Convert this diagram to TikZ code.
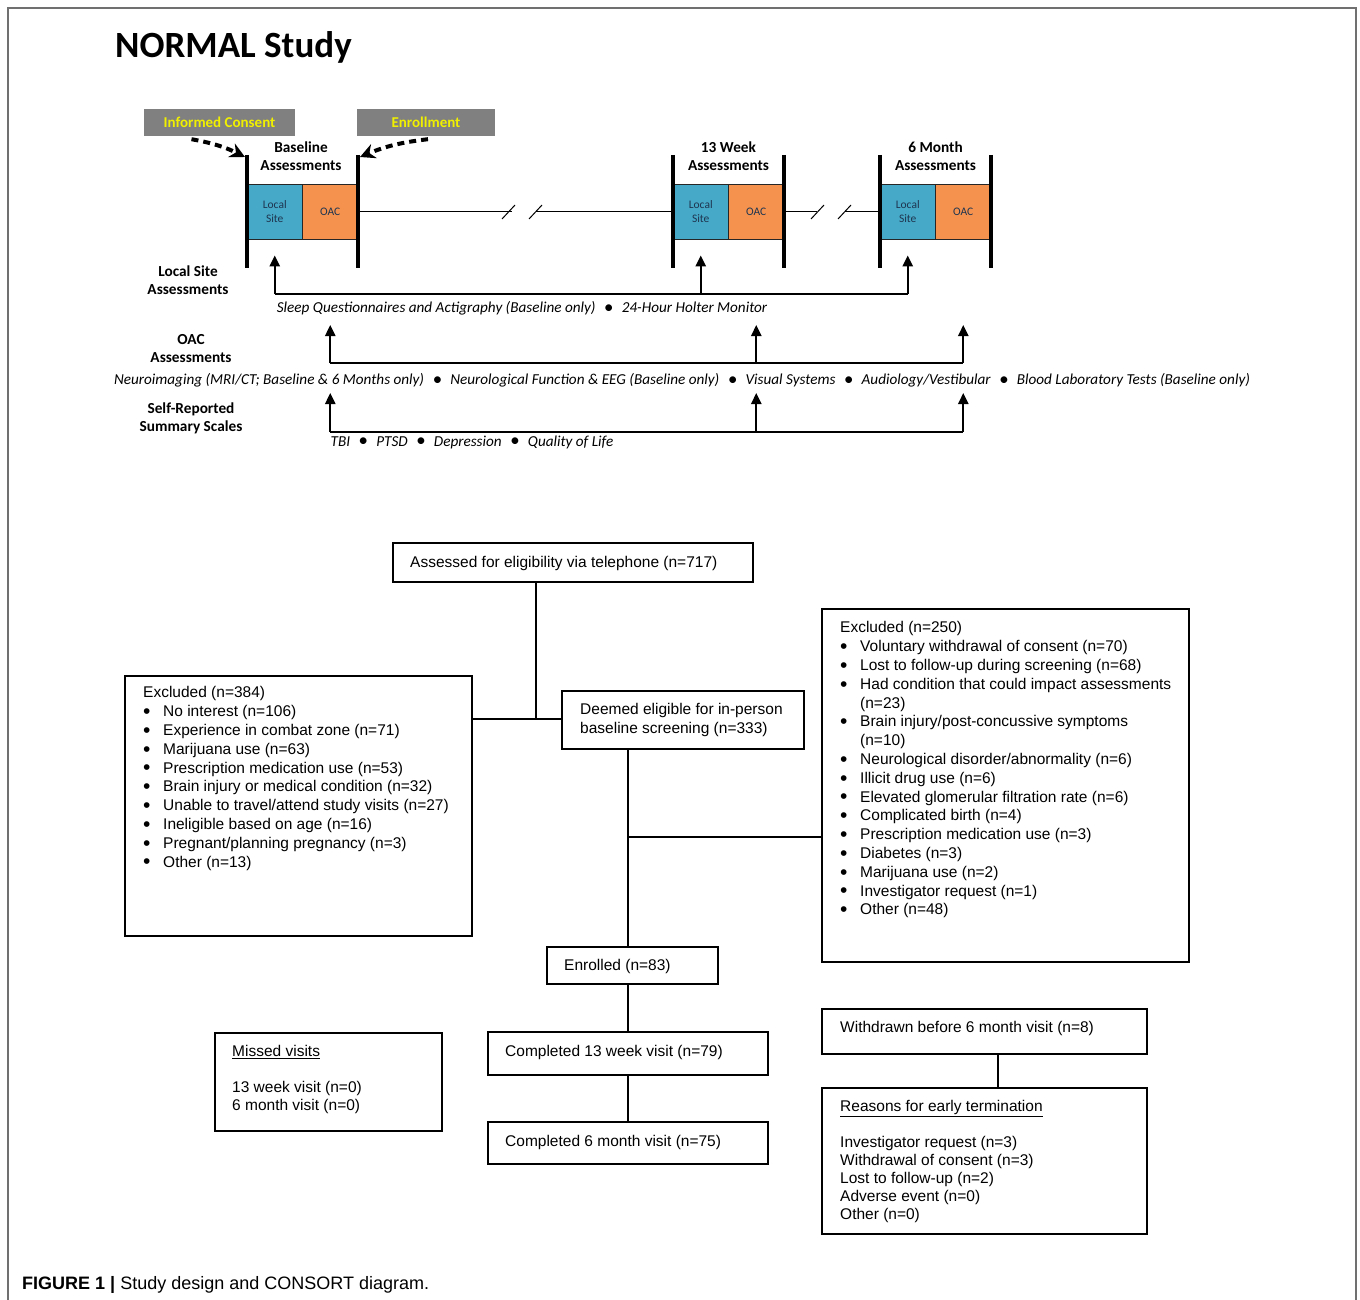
\documentclass[tikz,border=0pt]{standalone}
\usepackage{fontspec}
\setmainfont{Liberation Sans}
\newfontfamily\calfont{Carlito}
\usetikzlibrary{arrows.meta,calc}
\definecolor{lsblue}{HTML}{45A9C7}
\definecolor{oacorange}{HTML}{F5924E}
\definecolor{hdrgray}{HTML}{808080}
\definecolor{hdryellow}{HTML}{F0F000}
\definecolor{boxtext}{HTML}{1F3550}
\definecolor{framegray}{HTML}{707070}
\newcommand{\bsep}{\hspace{0.55em}\raisebox{-0.05em}{\fontsize{19}{19}\selectfont•}\hspace{0.55em}}
\newcommand{\bitem}{\makebox[20pt][l]{\raisebox{-0.12em}{\fontsize{21}{19}\selectfont•}}}
\begin{document}
\begin{tikzpicture}[x=1pt,y=-1pt,
  cbox/.style={draw, line width=1.8pt, inner sep=0},
  ctext/.style={anchor=north west, inner sep=0, align=left, font=\fontsize{15.5}{18.8}\selectfont},
  lbl/.style={inner sep=0, align=center, font=\calfont\bfseries\fontsize{15.3}{18}\selectfont},
  itx/.style={inner sep=0, font=\calfont\itshape\fontsize{15.2}{17}\selectfont},
  hdr/.style={fill=hdrgray, text=hdryellow, inner sep=0, minimum height=27, font=\calfont\bfseries\fontsize{15}{17}\selectfont},
  tbox/.style={draw=black!85, line width=0.8pt, inner sep=0, minimum width=55.5, minimum height=55, align=center, text=boxtext, font=\calfont\fontsize{11.5}{14}\selectfont},
  bar/.style={line width=4pt},
  tline/.style={line width=1pt},
  conn/.style={line width=2.4pt},
  uparrow/.style={line width=2.4pt, -{Triangle[length=11pt,width=10pt]}},
  dasharrow/.style={line width=4pt, dash pattern=on 7pt off 5pt, -{Stealth[length=15pt,width=15pt]}},
  link/.style={line width=1.8pt}
]
\useasboundingbox (0,0) rectangle (1360,1300);
% frame
\draw[framegray, line width=1.5pt] (8,1300) -- (8,8) -- (1356,8) -- (1356,1300);

% title
\node[anchor=west, inner sep=0, font=\calfont\bfseries\fontsize{37}{40}\selectfont] (title) at (115,47) {NORMAL Study};

% header boxes
\node[hdr, minimum width=151] (ic) at (219.5,122.5) {Informed Consent};
\node[hdr, minimum width=138] (enr) at (426,122.5) {Enrollment};

% assessment labels
\node[lbl] (blab) at (301,156) {Baseline\\Assessments};
\node[lbl] (wlab) at (728.5,156) {13 Week\\Assessments};
\node[lbl] (mlab) at (935.5,156) {6 Month\\Assessments};

% assessment boxes
\node[tbox, fill=lsblue] (ls1) at (274.75,211.5) {Local\\Site};
\node[tbox, fill=oacorange] (oac1) at (330.25,211.5) {OAC};
\node[tbox, fill=lsblue] (ls2) at (700.75,211.5) {Local\\Site};
\node[tbox, fill=oacorange] (oac2) at (756.25,211.5) {OAC};
\node[tbox, fill=lsblue] (ls3) at (907.75,211.5) {Local\\Site};
\node[tbox, fill=oacorange] (oac3) at (963.25,211.5) {OAC};

% bars
\coordinate (b1l) at (247,155); \coordinate (b1r) at (358,155);
\draw[bar] (b1l) -- (247,268);
\draw[bar] (b1r) -- (358,268);
\draw[bar] (673,155) -- (673,268);
\draw[bar] (784,155) -- (784,268);
\draw[bar] (880,155) -- (880,268);
\draw[bar] (991,155) -- (991,268);

% dashed arrows
\draw[dasharrow] ($(ic.south)+(-28,3)$) to[bend left=8] ($(b1l)+(-2,2)$);
\draw[dasharrow] ($(enr.south)+(2,3)$) to[bend right=8] ($(b1r)+(2,2)$);

% timeline
\draw[tline] (oac1.east) -- (512,211.5);
\draw[tline] (502,219) -- (515,205);
\draw[tline] (529,219) -- (542,205);
\draw[tline] (536,211.5) -- (ls2.west);
\draw[tline] (oac2.east) -- (817,211.5);
\draw[tline] (811,219) -- (824,205);
\draw[tline] (838,219) -- (851,205);
\draw[tline] (845,211.5) -- (ls3.west);

% local site assessments
\node[lbl] (lsl) at (188,280) {Local Site\\Assessments};
\coordinate (lsh) at (0,294);
\draw[conn] (ls1.south |- lsh) -- (ls3.south |- lsh);
\draw[uparrow] (ls1.south |- lsh) -- ($(ls1.south)+(0,16)$);
\draw[uparrow] (ls2.south |- lsh) -- ($(ls2.south)+(0,16)$);
\draw[uparrow] (ls3.south |- lsh) -- ($(ls3.south)+(0,16)$);
\node[itx] (lst) at (522,308) {Sleep Questionnaires and Actigraphy (Baseline only)\bsep 24-Hour Holter Monitor};

% OAC assessments
\node[lbl] (oacl) at (191,349) {OAC\\Assessments};
\coordinate (oh) at (0,363);
\coordinate (ot) at (0,325);
\draw[conn] (oac1 |- oh) -- (oac3 |- oh);
\draw[uparrow] (oac1 |- oh) -- (oac1 |- ot);
\draw[uparrow] (oac2 |- oh) -- (oac2 |- ot);
\draw[uparrow] (oac3 |- oh) -- (oac3 |- ot);
\node[itx] (oact) at (682,380) {Neuroimaging (MRI/CT; Baseline \& 6 Months only)\bsep Neurological Function \& EEG (Baseline only)\bsep Visual Systems\bsep Audiology/Vestibular\bsep Blood Laboratory Tests (Baseline only)};

% self-reported
\node[lbl] (srl) at (191,418) {Self-Reported\\Summary Scales};
\coordinate (sh) at (0,432);
\coordinate (st) at (0,393);
\draw[conn] (oac1 |- sh) -- (oac3 |- sh);
\draw[uparrow] (oac1 |- sh) -- (oac1 |- st);
\draw[uparrow] (oac2 |- sh) -- (oac2 |- st);
\draw[uparrow] (oac3 |- sh) -- (oac3 |- st);
\node[itx] (srt) at (472,442) {TBI\bsep PTSD\bsep Depression\bsep Quality of Life};

% CONSORT boxes
\node[cbox, minimum width=360, minimum height=39] (assess) at (573,562.5) {};
\node[cbox, minimum width=242, minimum height=58] (deemed) at (683,720) {};
\node[cbox, minimum width=347, minimum height=260] (exL) at (298.5,806) {};
\node[cbox, minimum width=367, minimum height=353] (exR) at (1005.5,785.5) {};
\node[cbox, minimum width=171, minimum height=37] (enrolled) at (632.5,965.5) {};
\node[cbox, minimum width=280, minimum height=43] (c13) at (628,1053.5) {};
\node[cbox, minimum width=280, minimum height=42] (c6) at (628,1143) {};
\node[cbox, minimum width=227, minimum height=98] (missed) at (328.5,1082) {};
\node[cbox, minimum width=325, minimum height=45] (withdrawn) at (984.5,1031.5) {};
\node[cbox, minimum width=325, minimum height=146] (reasons) at (984.5,1161) {};

% CONSORT texts
\node[ctext] (assessT) at (410,556.5) {Assessed for eligibility via telephone (n=717)};
\node[ctext] (deemedT) at (580,703.5) {Deemed eligible for in-person\\baseline screening (n=333)};
\node[ctext] (exLT) at (143,686.5) {Excluded (n=384)\\
\bitem No interest (n=106)\\
\bitem Experience in combat zone (n=71)\\
\bitem Marijuana use (n=63)\\
\bitem Prescription medication use (n=53)\\
\bitem Brain injury or medical condition (n=32)\\
\bitem Unable to travel/attend study visits (n=27)\\
\bitem Ineligible based on age (n=16)\\
\bitem Pregnant/planning pregnancy (n=3)\\
\bitem Other (n=13)};
\node[ctext] (exRT) at (840,621.5) {Excluded (n=250)\\
\bitem Voluntary withdrawal of consent (n=70)\\
\bitem Lost to follow-up during screening (n=68)\\
\bitem Had condition that could impact assessments\\
\hspace*{20pt}(n=23)\\
\bitem Brain injury/post-concussive symptoms\\
\hspace*{20pt}(n=10)\\
\bitem Neurological disorder/abnormality (n=6)\\
\bitem Illicit drug use (n=6)\\
\bitem Elevated glomerular filtration rate (n=6)\\
\bitem Complicated birth (n=4)\\
\bitem Prescription medication use (n=3)\\
\bitem Diabetes (n=3)\\
\bitem Marijuana use (n=2)\\
\bitem Investigator request (n=1)\\
\bitem Other (n=48)};
\node[ctext] (enrolledT) at (564,959.5) {Enrolled (n=83)};
\node[ctext] (c13T) at (505,1045.5) {Completed 13 week visit (n=79)};
\node[ctext] (c6T) at (505,1135.5) {Completed 6 month visit (n=75)};
\node[ctext, font=\fontsize{15.5}{18}\selectfont] (missedT) at (232,1045.5) {\underline{Missed visits}\\[18pt]13 week visit (n=0)\\6 month visit (n=0)};
\node[ctext] (withdrawnT) at (840,1021.5) {Withdrawn before 6 month visit (n=8)};
\node[ctext, font=\fontsize{15.5}{18}\selectfont] (reasonsT) at (840,1100.5) {\underline{Reasons for early termination}\\[18pt]Investigator request (n=3)\\Withdrawal of consent (n=3)\\Lost to follow-up (n=2)\\Adverse event (n=0)\\Other (n=0)};

% CONSORT connectors
\coordinate (j1) at (536,719);
\coordinate (j2) at (628,837);
\coordinate (j3) at (998,0);
\draw[link] (assess.south -| j1) -- (j1);
\draw[link] (exL.east |- j1) -- (deemed.west |- j1);
\draw[link] (deemed.south -| j2) -- (enrolled.north -| j2);
\draw[link] (j2) -- (exR.west |- j2);
\draw[link] (enrolled.south -| j2) -- (c13.north -| j2);
\draw[link] (c13.south -| j2) -- (c6.north -| j2);
\draw[link] (withdrawn.south -| j3) -- (reasons.north -| j3);

% caption
\node[anchor=west, inner sep=0, font=\fontsize{18}{20}\selectfont] (cap) at (22,1285) {\textbf{FIGURE 1 |} Study design and CONSORT diagram.};
\end{tikzpicture}
\end{document}
